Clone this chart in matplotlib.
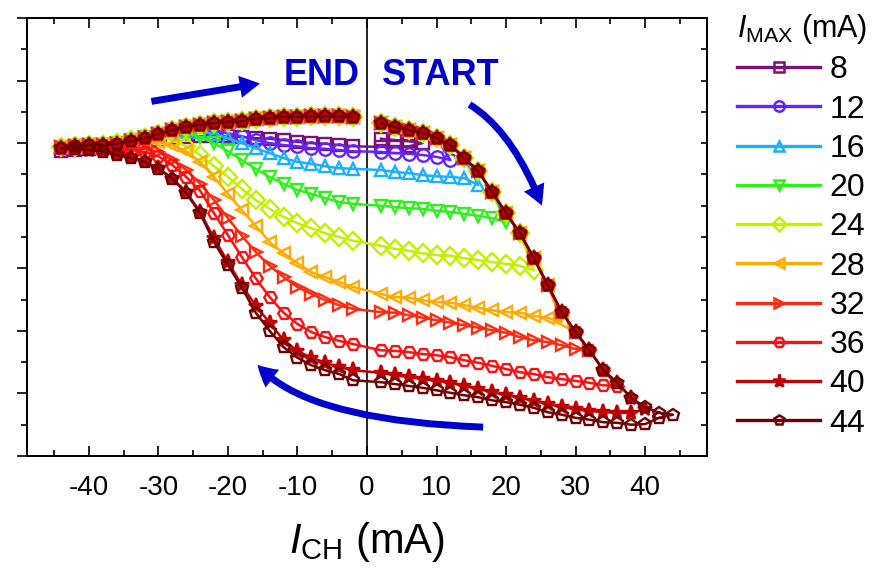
import matplotlib
matplotlib.use('Agg')
import matplotlib.pyplot as plt
from matplotlib.lines import Line2D
from matplotlib.patches import FancyArrowPatch
from matplotlib.ticker import MultipleLocator

plt.rcParams['font.family'] = ['Liberation Sans', 'DejaVu Sans']
plt.rcParams['mathtext.fontset'] = 'custom'
plt.rcParams['mathtext.rm'] = 'Liberation Sans'
plt.rcParams['mathtext.it'] = 'Liberation Sans:italic'
plt.rcParams['axes.unicode_minus'] = False

# sweep: 0 -> +Imax -> -44 -> 0 in 2 mA steps (y = resistance, arb. units)
i_max = [8, 12, 16, 20, 24, 28, 32, 36, 40, 44]
colors = ['#7a107a', '#6422ff', '#1ab0ff', '#2ef01a', '#c2f000',
          '#ffab00', '#ff2a10', '#ff1010', '#c00000', '#6e0000']
markers = ['s', 'o', '^', 'v', 'D', '<', '>', 'H', '*', 'p']

# common start branch, x = 2 ... 44
env = [53.2, 52.6, 52.1, 51.6, 50.8, 49.7, 47.6, 45.5, 42.2, 38.8, 35.6,
       31.6, 27.3, 23.0, 19.8, 16.9, 13.7, 11.7, 9.3, 7.8, 6.9, 6.6]
# common last branch back to zero, x = -42 ... -2
top = [49.5, 49.7, 49.7, 49.9, 50.3, 50.8, 51.5, 52.1, 52.6, 52.9, 53.2,
       53.4, 53.5, 53.9, 54.0, 54.2, 54.2, 54.3, 54.3, 54.3, 54.2]
# start of the 8 mA loop, x = 2, 4, 6
s8 = [50.7, 50.5, 50.3]

# return branches, x = Imax, Imax-2 ... 2, then -2 ... -44
r8 = [50.0, 49.5, 49.4, 49.4,
      49.5, 49.7, 49.9, 50.0, 50.2, 50.5, 50.7, 50.8, 51.0, 51.1, 51.1,
      51.1, 51.0, 50.8, 50.5, 50.2, 49.9, 49.5, 49.2, 49.1, 48.9, 48.7]
r12 = [47.3, 47.8, 48.1, 48.3, 48.4, 48.6,
       48.7, 48.9, 49.1, 49.2, 49.5, 49.7, 50.0, 50.5, 51.1, 51.6, 51.9,
       52.1, 51.9, 51.6, 51.1, 50.7, 50.2, 49.9, 49.5, 49.4, 49.2, 49.2]
r16 = [43.3, 44.4, 44.6, 44.7, 44.9, 45.2, 45.4, 45.7,
       45.9, 46.0, 46.3, 46.7, 47.0, 47.6, 48.4, 49.2, 50.0, 50.8, 51.5,
       51.8, 51.9, 51.8, 51.5, 51.0, 50.5, 50.0, 49.7, 49.5, 49.4, 49.4]
r20 = [37.4, 38.0, 38.4, 38.7, 39.0, 39.2, 39.5, 39.6, 39.8, 40.0,
       40.3, 40.6, 41.2, 41.9, 42.5, 43.5, 44.6, 45.9, 47.3, 48.7, 50.0,
       51.0, 51.5, 51.6, 51.5, 51.0, 50.5, 50.0, 49.7, 49.5, 49.4, 49.4]
r24 = [29.7, 30.4, 30.7, 31.0, 31.3, 31.6, 32.0, 32.1, 32.4, 32.8, 33.1, 33.6,
       34.4, 35.0, 35.6, 36.4, 37.2, 38.2, 39.5, 40.9, 42.7, 44.6, 46.3,
       48.1, 49.5, 50.5, 51.0, 50.8, 50.5, 50.0, 49.7, 49.5, 49.4, 49.4]
r28 = [21.4, 22.1, 22.4, 22.9, 23.0, 23.3, 23.7, 24.1, 24.5, 24.6, 24.9,
       25.3, 25.4, 25.9,
       27.0, 27.8, 28.6, 29.4, 30.8, 32.4, 34.2, 36.8, 39.3, 41.9, 44.6,
       47.0, 48.7, 49.7, 50.2, 50.0, 49.7, 49.5, 49.4, 49.4, 49.4, 49.4]
r32 = [16.9, 17.1, 17.7, 18.2, 18.5, 19.0, 19.7, 20.1, 20.5, 20.9, 21.3,
       21.7, 22.1, 22.5, 22.9, 23.0,
       23.5, 24.1, 24.9, 25.9, 27.0, 28.6, 30.4, 32.6, 35.2, 38.0, 40.9,
       43.5, 45.7, 47.3, 48.6, 49.1, 49.2, 49.4, 49.4, 49.4, 49.4, 49.4]
r36 = [11.2, 11.3, 11.7, 12.0, 12.3, 12.6, 13.1, 13.4, 13.9, 14.4, 14.9,
       15.3, 15.8, 16.1, 16.3, 16.6, 16.8, 16.9,
       17.9, 18.4, 19.0, 19.8, 21.1, 22.9, 25.4, 28.4, 31.8, 35.3, 38.8,
       42.4, 44.6, 46.5, 47.9, 48.6, 48.9, 49.1, 49.2, 49.2, 49.2, 49.2]
r40 = [7.5, 6.9, 6.9, 7.0, 7.2, 7.5, 7.8, 8.3, 8.8, 9.3, 9.7, 10.2, 10.7,
       11.2, 11.7, 12.0, 12.3, 12.6, 12.9, 13.3,
       13.7, 14.2, 14.9, 15.7, 16.8, 18.5, 21.3, 24.0, 27.3, 31.0, 34.8,
       39.0, 42.2, 44.4, 46.0, 47.1, 47.8, 48.3, 48.7, 48.9, 49.1, 49.2]
r44 = [6.6, 6.1, 5.1, 5.0, 5.3, 5.4, 5.8, 6.1, 6.6, 7.0, 7.7, 8.2, 8.6,
       8.9, 9.4, 9.7, 10.1, 10.5, 10.9, 11.2, 11.5, 11.8,
       12.1, 13.1, 13.7, 14.5, 15.7, 17.4, 20.0, 22.9, 26.9, 30.5, 34.2,
       38.8, 42.0, 44.3, 45.9, 47.0, 47.6, 48.1, 48.6, 48.9, 49.1, 49.2]
returns = [r8, r12, r16, r20, r24, r28, r32, r36, r40, r44]

blue = '#0000cc'

fig = plt.figure(figsize=(8.89, 5.78), dpi=100)
ax = fig.add_axes([27/889, 1 - 456/578, 680/889, 438/578])

ax.axvline(0, color='k', lw=1.2, zorder=1)

handles = []
for m, c, mk, r in zip(i_max, colors, markers, returns):
    start = s8 if m == 8 else env[:m // 2 - 1]
    xs = (list(range(2, m - 1, 2)) + list(range(m, 0, -2))
          + list(range(-2, -45, -2)) + list(range(-42, -1, 2)))
    ys = start + r + top
    mfc = c if mk == '*' else 'none'
    ms = 11 if mk == '*' else 9
    ax.plot(xs, ys, color=c, lw=1.8, marker=mk, ms=ms, mfc=mfc,
            mec=c, mew=1.7, zorder=2)
    handles.append(Line2D([], [], color=c, lw=2.4, marker=mk,
                          ms=ms - 1.5, mfc=mfc, mec=c, mew=1.8))

ax.set_xlim(-48.9, 48.9)
ax.set_ylim(0, 70)
ax.xaxis.set_major_locator(MultipleLocator(10))
ax.xaxis.set_minor_locator(MultipleLocator(5))
ax.yaxis.set_major_locator(MultipleLocator(10))
ax.yaxis.set_minor_locator(MultipleLocator(5))
ax.tick_params(axis='x', which='both', direction='in', top=True, width=1.2,
               labelsize=20, pad=14)
ax.tick_params(axis='x', which='major', length=7)
ax.tick_params(axis='x', which='minor', length=4)
ax.tick_params(axis='y', which='both', direction='out', right=False,
               labelleft=False, width=1.2)
ax.tick_params(axis='y', which='major', length=7)
ax.tick_params(axis='y', which='minor', length=4)
for s in ax.spines.values():
    s.set_linewidth(1.3)

ax2 = ax.twinx()
ax2.set_ylim(0, 70)
ax2.yaxis.set_major_locator(MultipleLocator(5))
ax2.tick_params(axis='y', direction='in', length=4, width=1.2,
                labelright=False)
for s in ax2.spines.values():
    s.set_linewidth(1.3)

ax.set_xlabel(r'$I_{\mathrm{CH}}$ (mA)', fontsize=30, labelpad=13)

ax.text(-6.5, 59.3, 'END', color=blue, fontsize=26, fontweight='bold',
        ha='center', va='baseline')
ax.text(10.6, 59.3, 'START', color=blue, fontsize=26, fontweight='bold',
        ha='center', va='baseline')

astyle = 'simple,head_length=0.58,head_width=0.64,tail_width=0.2'
ax.add_patch(FancyArrowPatch((-31.4, 56.6), (-15.0, 59.6), arrowstyle=astyle,
                             mutation_scale=25, color=blue, lw=0, zorder=5))
ax.add_patch(FancyArrowPatch((14.4, 56.4), (25.3, 39.6), arrowstyle=astyle,
                             connectionstyle='angle3,angleA=-30,angleB=-69',
                             mutation_scale=25, color=blue, lw=0, zorder=5))
ax.add_patch(FancyArrowPatch((17.1, 4.6), (-16.0, 14.9), arrowstyle=astyle,
                             connectionstyle='angle3,angleA=-2,angleB=129',
                             mutation_scale=25, color=blue, lw=0, zorder=5))

leg = ax.legend(handles, [str(m) for m in i_max], loc='upper left',
                bbox_to_anchor=(737/889, 1 - 12/578),
                bbox_transform=fig.transFigure, frameon=False, fontsize=23,
                title=r'$I_{\mathrm{MAX}}$ (mA)', title_fontsize=22,
                handlelength=2.6, handletextpad=0.3, labelspacing=0.29,
                borderpad=0, borderaxespad=0, alignment='left')

fig.savefig('out.png', dpi=100)
